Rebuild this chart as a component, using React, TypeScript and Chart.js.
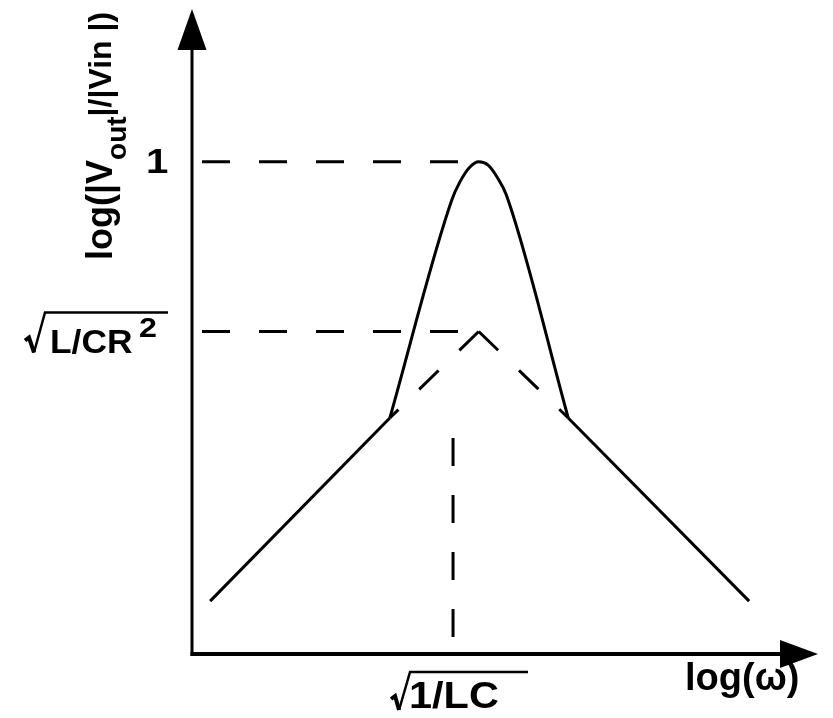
import React, { useEffect, useRef } from "react";
import { Chart, registerables } from "chart.js";

Chart.register(...registerables);

// Axis ranges (arbitrary log units)
const X_MAX = 10;
const Y_MAX = 10;

// Low-frequency asymptote (rising, solid)
const lowSlope = [
  { x: 0.29, y: 0.82 },
  { x: 3.16, y: 3.66 },
];
// Resonant peak of the actual response (solid)
const resonancePeak = [
  { x: 3.16, y: 3.66 },
  { x: 4.15, y: 7.04 },
  { x: 4.28, y: 7.32 },
  { x: 4.44, y: 7.55 },
  { x: 4.58, y: 7.63 },
  { x: 4.73, y: 7.58 },
  { x: 4.87, y: 7.4 },
  { x: 5.02, y: 7.12 },
  { x: 6.01, y: 3.66 },
];
// High-frequency asymptote (falling, solid)
const highSlope = [
  { x: 6.01, y: 3.66 },
  { x: 8.9, y: 0.82 },
];
// Ideal asymptotes meeting at the corner (dashed), drawn outwards from the corner
const asymptoteLeft = [
  { x: 4.58, y: 5.0 },
  { x: 3.16, y: 3.66 },
];
const asymptoteRight = [
  { x: 4.58, y: 5.0 },
  { x: 6.01, y: 3.66 },
];

const PEAK_X = 4.58;
const PEAK_GAIN = 7.63; // labelled "1"
const CORNER_GAIN = 5.0; // labelled √(L/CR²)
const RESONANCE_X = 4.17; // labelled √(1/LC)
const RESONANCE_GUIDE_TOP = 3.35;

const peakGuide = [
  { x: 0, y: PEAK_GAIN },
  { x: PEAK_X, y: PEAK_GAIN },
];
const cornerGuide = [
  { x: 0, y: CORNER_GAIN },
  { x: PEAK_X, y: CORNER_GAIN },
];
const resonanceGuide = [
  { x: RESONANCE_X, y: RESONANCE_GUIDE_TOP },
  { x: RESONANCE_X, y: 0 },
];

const FONT = '"Liberation Sans", Arial, Helvetica, sans-serif';

function stretchedText(ctx: any, text: string, x: number, y: number, sx: number) {
  ctx.save();
  ctx.translate(x, y);
  ctx.scale(sx, 1);
  ctx.fillText(text, 0, 0);
  ctx.restore();
}

const annotate = {
  id: "annotate",
  afterDatasetsDraw(chart: any) {
    const { ctx, scales } = chart;
    const xs = scales.x;
    const ys = scales.y;
    const x0 = xs.getPixelForValue(0);
    const y0 = ys.getPixelForValue(0);
    const xEnd = xs.getPixelForValue(X_MAX);
    const yEnd = ys.getPixelForValue(Y_MAX);
    ctx.save();
    ctx.fillStyle = "#000";
    ctx.strokeStyle = "#000";
    ctx.lineCap = "butt";

    // y axis with arrow
    ctx.lineWidth = 3;
    ctx.beginPath();
    ctx.moveTo(x0, y0 + 2);
    ctx.lineTo(x0, yEnd + 40);
    ctx.stroke();
    ctx.beginPath();
    ctx.moveTo(x0, yEnd);
    ctx.lineTo(x0 - 14.5, yEnd + 41);
    ctx.lineTo(x0 + 14.5, yEnd + 41);
    ctx.closePath();
    ctx.fill();

    // x axis with arrow
    ctx.lineWidth = 4;
    ctx.beginPath();
    ctx.moveTo(x0 - 1.5, y0);
    ctx.lineTo(xEnd - 37, y0);
    ctx.stroke();
    ctx.beginPath();
    ctx.moveTo(xEnd, y0);
    ctx.lineTo(xEnd - 38, y0 - 14);
    ctx.lineTo(xEnd - 38, y0 + 14);
    ctx.closePath();
    ctx.fill();

    ctx.textBaseline = "alphabetic";
    ctx.textAlign = "left";

    // "1" label
    const yPeak = ys.getPixelForValue(PEAK_GAIN);
    ctx.font = `bold 35px ${FONT}`;
    stretchedText(ctx, "1", x0 - 46, yPeak + 11, 1.15);

    // √(L/CR²) label
    const yC = ys.getPixelForValue(CORNER_GAIN);
    ctx.lineWidth = 4;
    ctx.beginPath();
    ctx.moveTo(x0 - 167, yC + 9);
    ctx.lineTo(x0 - 163, yC + 6);
    ctx.lineTo(x0 - 158, yC + 21);
    ctx.stroke();
    ctx.lineWidth = 2.5;
    ctx.beginPath();
    ctx.moveTo(x0 - 158, yC + 21);
    ctx.lineTo(x0 - 147, yC - 19);
    ctx.lineTo(x0 - 24, yC - 19);
    ctx.stroke();
    ctx.font = `bold 34px ${FONT}`;
    stretchedText(ctx, "L/CR", x0 - 142, yC + 21, 1.04);
    ctx.font = `bold 28px ${FONT}`;
    stretchedText(ctx, "2", x0 - 53, yC + 5, 1.15);

    // √(1/LC) label
    const xR = xs.getPixelForValue(RESONANCE_X);
    ctx.lineWidth = 4;
    ctx.beginPath();
    ctx.moveTo(xR - 62, y0 + 45);
    ctx.lineTo(xR - 58, y0 + 42);
    ctx.lineTo(xR - 54, y0 + 56);
    ctx.stroke();
    ctx.lineWidth = 2.5;
    ctx.beginPath();
    ctx.moveTo(xR - 54, y0 + 56);
    ctx.lineTo(xR - 43, y0 + 18);
    ctx.lineTo(xR + 75, y0 + 18);
    ctx.stroke();
    ctx.font = `bold 37px ${FONT}`;
    stretchedText(ctx, "1/LC", xR - 44, y0 + 54, 1.12);

    // x axis title
    ctx.font = `bold 38px ${FONT}`;
    ctx.fillText("log(ω)", xEnd - 133, y0 + 36);

    // y axis title (rotated)
    ctx.translate(x0 - 80, y0 - 394);
    ctx.rotate(-Math.PI / 2);
    let cx = 0;
    ctx.font = `bold 36px ${FONT}`;
    ctx.fillText("log(|V", cx, 0);
    cx += ctx.measureText("log(|V").width;
    ctx.font = `bold 28px ${FONT}`;
    ctx.fillText("out", cx, 14);
    cx += ctx.measureText("out").width;
    ctx.font = `bold 32px ${FONT}`;
    ctx.fillText("|/|Vin |)", cx, -1);

    ctx.restore();
  },
};

const solid = (data: any[]) => ({
  data,
  borderColor: "#000",
  borderWidth: 3,
  pointRadius: 0,
  showLine: true,
  fill: false,
});

const dashed = (data: any[], dash: number[], offset = 0) => ({
  data,
  borderColor: "#000",
  borderWidth: 3,
  borderDash: dash,
  borderDashOffset: offset,
  borderCapStyle: "butt",
  pointRadius: 0,
  showLine: true,
  fill: false,
});

export default function App() {
  const ref = useRef<HTMLCanvasElement | null>(null);
  useEffect(() => {
    if (!ref.current) return;
    const chart = new Chart(ref.current, {
      type: "scatter",
      data: {
        datasets: [
          solid(lowSlope),
          { ...solid(resonancePeak), cubicInterpolationMode: "monotone" },
          solid(highSlope),
          dashed(asymptoteLeft, [27, 29]),
          dashed(asymptoteRight, [27, 29]),
          dashed(peakGuide, [28, 29], -10),
          dashed(cornerGuide, [28, 29], -10),
          dashed(resonanceGuide, [28, 29]),
        ] as any,
      },
      options: {
        responsive: false,
        animation: false,
        devicePixelRatio: 1,
        layout: { padding: { left: 192, right: 15, top: 9, bottom: 64 } },
        plugins: { legend: { display: false }, tooltip: { enabled: false } },
        scales: {
          x: { type: "linear", min: 0, max: X_MAX, display: false },
          y: { type: "linear", min: 0, max: Y_MAX, display: false },
        },
      },
      plugins: [annotate],
    });
    return () => chart.destroy();
  }, []);
  return (
    <div style={{ position: "absolute", left: 0, top: 0, width: 833, height: 718, background: "#fff" }}>
      <canvas ref={ref} width={833} height={718} />
    </div>
  );
}
